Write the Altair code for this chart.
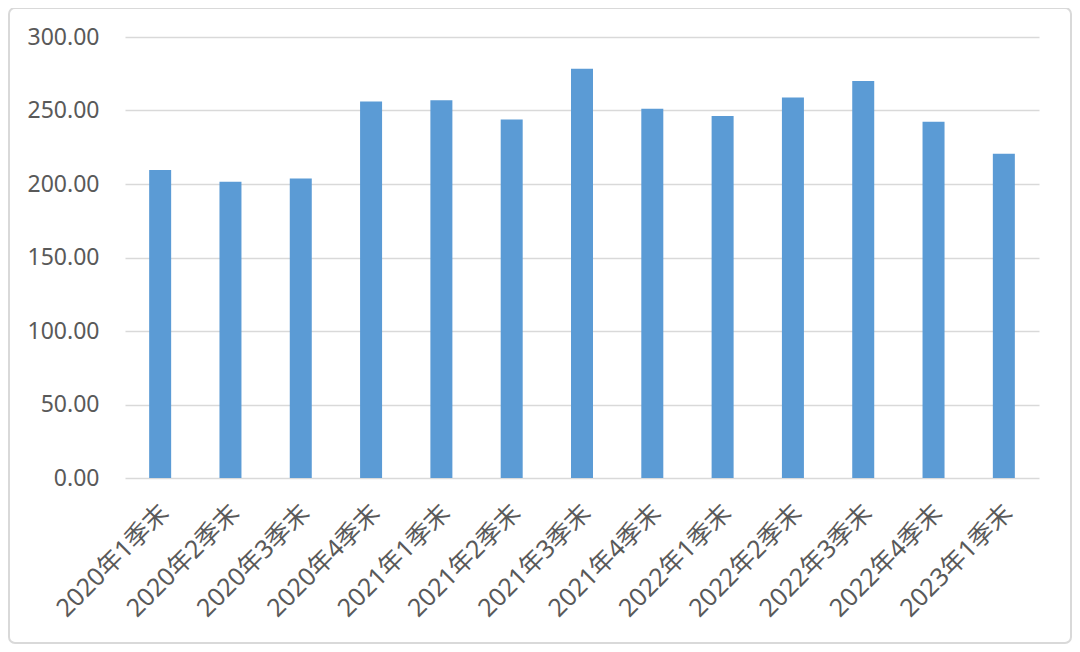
import altair as alt
import pandas as pd

categories = ["2020年1季末", "2020年2季末", "2020年3季末", "2020年4季末",
              "2021年1季末", "2021年2季末", "2021年3季末", "2021年4季末",
              "2022年1季末", "2022年2季末", "2022年3季末", "2022年4季末",
              "2023年1季末"]
values = [209.5, 201.6, 203.8, 256.2, 256.9, 243.9, 278.4,
          251.2, 246.3, 258.9, 270.1, 242.4, 220.6]
y_ticks = [0, 50, 100, 150, 200, 250, 300]

df = pd.DataFrame({"cat": categories, "val": values})

FONT = "Noto Sans, Noto Sans CJK SC, sans-serif"
TXT = "#595959"

bars = alt.Chart(df).mark_bar(size=22, color="#5B9BD5").encode(
    x=alt.X("cat:N", sort=categories, title=None,
            scale=alt.Scale(paddingInner=0, paddingOuter=0),
            axis=alt.Axis(labelAngle=-45, labelFontSize=25, labelColor=TXT,
                          labelFont=FONT, domain=False, ticks=False,
                          labelPadding=22, labelOffset=-4, grid=False)),
    y=alt.Y("val:Q", title=None,
            scale=alt.Scale(domain=[0, 300], nice=False),
            axis=alt.Axis(values=y_ticks, format=".2f", labelFontSize=23,
                          labelColor=TXT, labelFont=FONT, domain=False,
                          ticks=False, labelPadding=26, gridColor="#d9d9d9",
                          gridWidth=1.5)),
)

border = alt.Chart(pd.DataFrame({"a": [0]})).mark_rect(
    fill="transparent", stroke="#d9d9d9", strokeWidth=2, cornerRadius=6,
    clip=False
).encode(
    x=alt.value(-116), x2=alt.value(946),
    y=alt.value(-29), y2=alt.value(606),
)

chart = alt.layer(bars, border).properties(
    width=914, height=441,
    background="white",
    autosize=alt.AutoSizeParams(type="none"),
    padding={"left": 117, "top": 29, "right": 33, "bottom": 167},
).configure_view(stroke=None, strokeWidth=0)

chart.save("out.html", embed_options={"renderer": "svg", "actions": False})
